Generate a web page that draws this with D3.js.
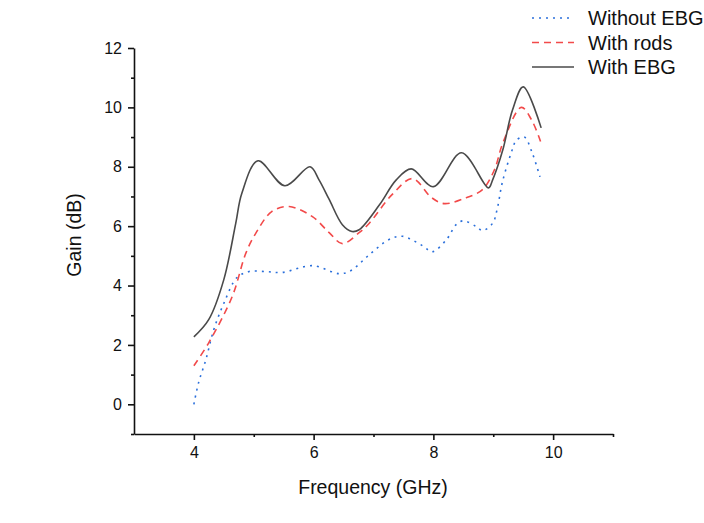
<!DOCTYPE html>
<html lang="en">
<head>
    <meta charset="utf-8" />
    <style>
        body { margin: 0; background: #fff; }
        text { font-family: "Liberation Sans", Arial, sans-serif; fill: #111; }
        .axis path, .axis line { stroke: #111; stroke-width: 1.6px; }
        .axis text { font-size: 16px; }
        .series { fill: none; stroke-width: 1.6px; }
    </style>
</head>
<body>
<svg width="704" height="523"></svg>
<script src="https://cdn.jsdelivr.net/npm/d3@7"></script>
<script>

    var xTicks = [4, 6, 8, 10],
        yTicks = [0, 2, 4, 6, 8, 10, 12];

    var withoutEBG = [
        [4.00, 0.00], [4.08, 0.74], [4.20, 1.50], [4.33, 2.50], [4.50, 3.40],
        [4.72, 4.27], [4.92, 4.47], [5.20, 4.47], [5.47, 4.44], [5.98, 4.67],
        [6.43, 4.40], [6.62, 4.50], [6.93, 5.04], [7.26, 5.55], [7.48, 5.66],
        [7.82, 5.34], [7.98, 5.14], [8.22, 5.55], [8.38, 6.05], [8.50, 6.18],
        [8.72, 5.98], [8.82, 5.85], [8.99, 6.10], [9.07, 6.62], [9.15, 7.46],
        [9.30, 8.47], [9.39, 8.90], [9.52, 9.00], [9.65, 8.47], [9.78, 7.66]
    ];

    var withRods = [
        [4.00, 1.30], [4.25, 2.08], [4.64, 3.63], [4.87, 5.10], [5.04, 5.78],
        [5.30, 6.49], [5.59, 6.66], [5.98, 6.32], [6.26, 5.78], [6.48, 5.41],
        [6.76, 5.78], [6.93, 6.10], [7.31, 7.06], [7.65, 7.60], [7.97, 6.96],
        [8.18, 6.76], [8.55, 6.96], [8.82, 7.23], [9.02, 7.90], [9.16, 8.80],
        [9.47, 10.00], [9.64, 9.58], [9.79, 8.85]
    ];

    var withEBG = [
        [4.00, 2.27], [4.25, 2.86], [4.50, 4.20], [4.70, 6.10], [4.80, 7.10],
        [5.07, 8.20], [5.52, 7.36], [5.94, 8.00], [6.09, 7.56], [6.26, 6.90],
        [6.48, 6.05], [6.64, 5.82], [6.76, 5.88], [7.10, 6.72], [7.38, 7.56],
        [7.63, 7.93], [8.00, 7.33], [8.47, 8.47], [8.92, 7.29], [8.99, 7.56],
        [9.16, 8.57], [9.32, 9.90], [9.50, 10.69], [9.80, 9.31]
    ];

    var series = [
        { name: "Without EBG", values: withoutEBG, color: "#2a6fdb", dash: "2,5" },
        { name: "With rods",   values: withRods,   color: "#f24a4a", dash: "7,5" },
        { name: "With EBG",    values: withEBG,    color: "#4a4a4a", dash: null }
    ];

    var svg = d3.select("svg");

    var x = d3.scaleLinear().domain([3, 11]).range([134, 613]),
        y = d3.scaleLinear().domain([-1, 12]).range([434, 48]);

    // minor ticks first so major ones sit on top
    svg.append("g")
        .attr("class", "axis")
        .attr("transform", "translate(0,434)")
        .call(d3.axisBottom(x).tickValues([5, 7, 9, 11]).tickSize(3).tickFormat(""))
        .select(".domain").remove();

    svg.append("g")
        .attr("class", "axis")
        .attr("transform", "translate(134,0)")
        .call(d3.axisLeft(y).tickValues([-1, 1, 3, 5, 7, 9, 11]).tickSize(3).tickFormat(""))
        .select(".domain").remove();

    svg.append("g")
        .attr("class", "axis")
        .attr("transform", "translate(0,434)")
        .call(d3.axisBottom(x).tickValues(xTicks).tickSize(6).tickSizeOuter(0).tickPadding(7));

    svg.append("g")
        .attr("class", "axis")
        .attr("transform", "translate(134,0)")
        .call(d3.axisLeft(y).tickValues(yTicks).tickSize(6).tickSizeOuter(0).tickPadding(6));

    svg.selectAll(".axis text").attr("fill", "#111");

    svg.append("text")
        .attr("x", 373)
        .attr("y", 494)
        .attr("text-anchor", "middle")
        .style("font-size", "19.5px")
        .text("Frequency (GHz)");

    svg.append("text")
        .attr("transform", "translate(81,235) rotate(-90)")
        .attr("text-anchor", "middle")
        .style("font-size", "19.5px")
        .text("Gain (dB)");

    var line = d3.line()
        .x(function(d) { return x(d[0]); })
        .y(function(d) { return y(d[1]); })
        .curve(d3.curveCatmullRom.alpha(0.5));

    svg.selectAll(".series")
        .data(series)
        .enter()
        .append("path")
        .attr("class", "series")
        .attr("stroke", function(d) { return d.color; })
        .attr("stroke-dasharray", function(d) { return d.dash; })
        .attr("d", function(d) { return line(d.values); });

    var legend = svg.selectAll(".legend")
        .data(series)
        .enter()
        .append("g")
        .attr("class", "legend")
        .attr("transform", function(d, i) { return "translate(532," + (18 + i * 24.5) + ")"; });

    legend.append("line")
        .attr("x1", 0)
        .attr("x2", 42)
        .attr("stroke", function(d) { return d.color; })
        .attr("stroke-width", 1.6)
        .attr("stroke-dasharray", function(d) { return d.dash; });

    legend.append("text")
        .attr("x", 56)
        .attr("y", 7)
        .style("font-size", "20px")
        .text(function(d) { return d.name; });

</script>
</body>
</html>
